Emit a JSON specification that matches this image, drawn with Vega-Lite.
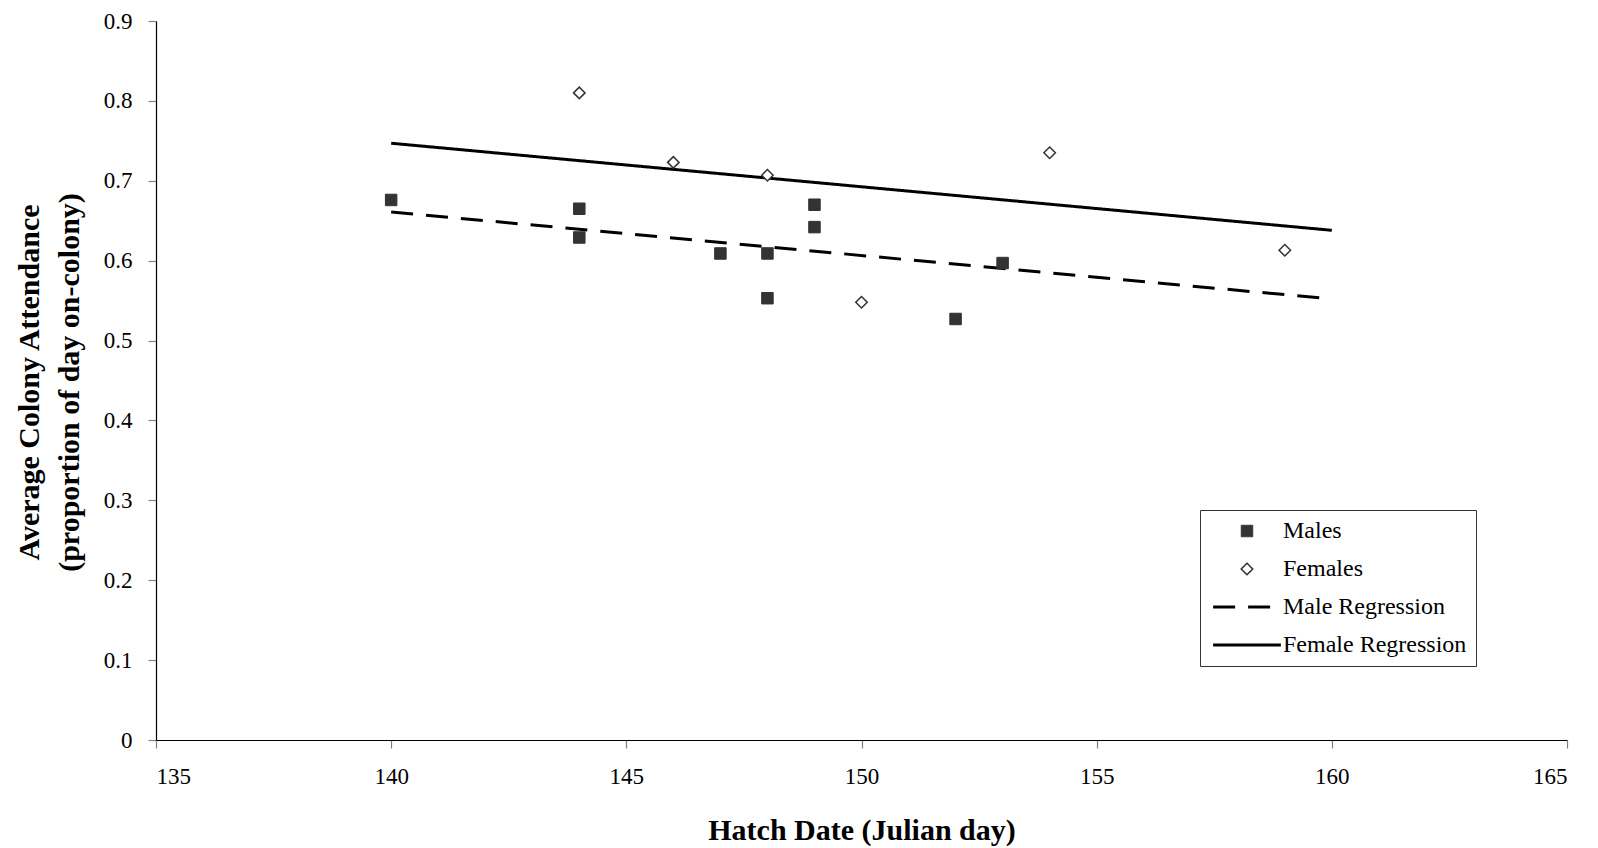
{
  "$schema": "https://vega.github.io/schema/vega-lite/v6.json",
  "width": 1411,
  "height": 719,
  "autosize": {"type": "none"},
  "padding": {"left": 156, "top": 21, "right": 31, "bottom": 108},
  "background": "white",
  "config": {
    "font": "Liberation Serif",
    "view": {"stroke": null},
    "axis": {
      "grid": false,
      "domainColor": "#000000",
      "domainWidth": 1.2,
      "tickColor": "#808080",
      "tickWidth": 1.2,
      "tickSize": 8,
      "labelFont": "Liberation Serif",
      "labelFontSize": 23,
      "labelColor": "#000000",
      "titleFont": "Liberation Serif",
      "titleFontSize": 30,
      "titleFontWeight": "bold",
      "titleColor": "#000000"
    }
  },
  "datasets": {
    "points": [
      {"day": 140, "attendance": 0.676, "series": "Males"},
      {"day": 144, "attendance": 0.665, "series": "Males"},
      {"day": 144, "attendance": 0.629, "series": "Males"},
      {"day": 147, "attendance": 0.609, "series": "Males"},
      {"day": 148, "attendance": 0.609, "series": "Males"},
      {"day": 148, "attendance": 0.553, "series": "Males"},
      {"day": 149, "attendance": 0.670, "series": "Males"},
      {"day": 149, "attendance": 0.642, "series": "Males"},
      {"day": 152, "attendance": 0.527, "series": "Males"},
      {"day": 153, "attendance": 0.597, "series": "Males"},
      {"day": 144, "attendance": 0.810, "series": "Females"},
      {"day": 146, "attendance": 0.723, "series": "Females"},
      {"day": 148, "attendance": 0.707, "series": "Females"},
      {"day": 150, "attendance": 0.548, "series": "Females"},
      {"day": 154, "attendance": 0.735, "series": "Females"},
      {"day": 159, "attendance": 0.613, "series": "Females"}
    ],
    "lines": [
      {"day": 140, "attendance": 0.661, "series": "Male Regression"},
      {"day": 160, "attendance": 0.552, "series": "Male Regression"},
      {"day": 140, "attendance": 0.747, "series": "Female Regression"},
      {"day": 160, "attendance": 0.638, "series": "Female Regression"}
    ]
  },
  "encoding": {
    "x": {
      "field": "day",
      "type": "quantitative",
      "scale": {"domain": [135, 165], "nice": false, "zero": false},
      "axis": {
        "values": [135, 140, 145, 150, 155, 160, 165],
        "labelPadding": 17,
        "title": "Hatch Date (Julian day)",
        "titleY": 90,
        "titleBaseline": "middle"
      }
    },
    "y": {
      "field": "attendance",
      "type": "quantitative",
      "scale": {"domain": [0, 0.9], "nice": false},
      "axis": {
        "values": [0, 0.1, 0.2, 0.3, 0.4, 0.5, 0.6, 0.7, 0.8, 0.9],
        "format": ".1~f",
        "labelPadding": 16,
        "title": ["Average Colony Attendance", "(proportion of day on-colony)"],
        "titleX": -127,
        "titleY": 361,
        "titleAngle": -90,
        "titleAlign": "center",
        "titleBaseline": "middle",
        "titleLineHeight": 40
      }
    }
  },
  "layer": [
    {
      "data": {"name": "lines"},
      "mark": {"type": "line"},
      "encoding": {
        "stroke": {
          "field": "series", "type": "nominal",
          "scale": {"domain": ["Males", "Females", "Male Regression", "Female Regression"], "range": ["#333333", "#333333", "#000000", "#000000"]},
          "legend": {
            "orient": "none",
            "legendX": 1044,
            "legendY": 489,
            "title": null,
            "strokeColor": "#333333",
            "fillColor": "#ffffff",
            "padding": 9,
            "cornerRadius": 0,
            "labelFont": "Liberation Serif",
            "labelFontSize": 24,
            "labelColor": "#000000",
            "labelOffset": 24,
            "symbolOffset": 26,
            "rowPadding": 14,
            "symbolSize": 132,
            "labelLimit": 400
          }
        },
        "strokeWidth": {
          "field": "series", "type": "ordinal",
          "scale": {"type": "ordinal", "domain": ["Males", "Females", "Male Regression", "Female Regression"], "range": [1, 1.5, 3, 3]}
        },
        "strokeDash": {
          "field": "series", "type": "nominal",
          "scale": {"domain": ["Males", "Females", "Male Regression", "Female Regression"], "range": [[1, 0], [1, 0], [22, 13], [1, 0]]}
        }
      }
    },
    {
      "data": {"name": "points"},
      "mark": {"type": "point", "opacity": 1, "size": 132},
      "encoding": {
        "shape": {
          "field": "series", "type": "nominal",
          "scale": {"domain": ["Males", "Females", "Male Regression", "Female Regression"], "range": ["square", "diamond", "M-5.9,0H5.9", "M-5.9,0H5.9"]}
        },
        "fill": {
          "field": "series", "type": "nominal",
          "scale": {"domain": ["Males", "Females", "Male Regression", "Female Regression"], "range": ["#333333", "#ffffff", "#000000", "#000000"]}
        },
        "stroke": {
          "field": "series", "type": "nominal",
          "scale": {"domain": ["Males", "Females", "Male Regression", "Female Regression"], "range": ["#333333", "#333333", "#000000", "#000000"]}
        },
        "strokeWidth": {
          "field": "series", "type": "ordinal",
          "scale": {"type": "ordinal", "domain": ["Males", "Females", "Male Regression", "Female Regression"], "range": [1, 1.5, 3, 3]}
        }
      }
    }
  ]
}
